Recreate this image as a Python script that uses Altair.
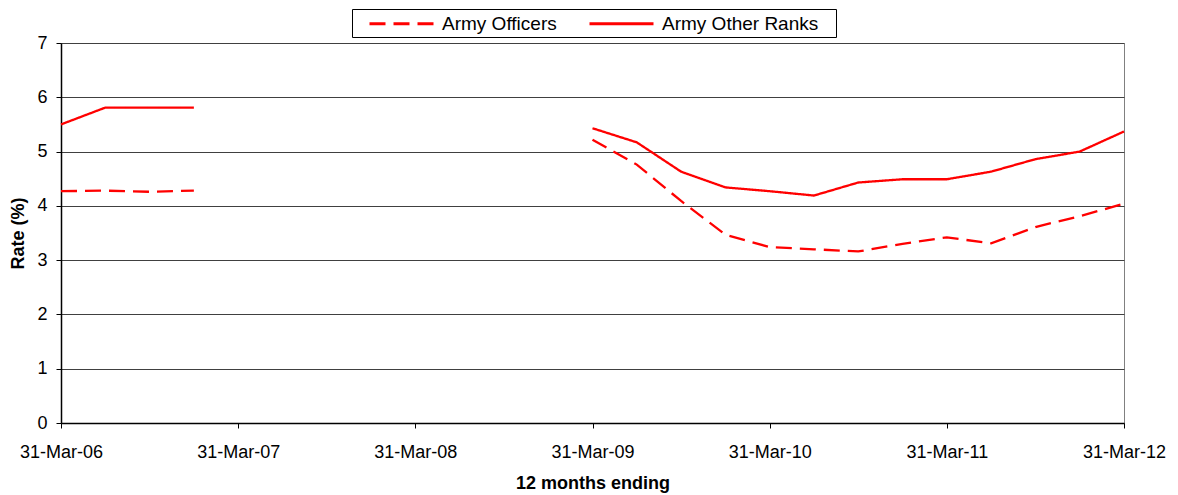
import altair as alt
import pandas as pd

# quarter index 0 = 31-Mar-06 ... 24 = 31-Mar-12
tick_labels = ["31-Mar-06", "31-Mar-07", "31-Mar-08", "31-Mar-09",
               "31-Mar-10", "31-Mar-11", "31-Mar-12"]
series_names = ["Army Officers", "Army Other Ranks"]

officers = [4.27, 4.28, 4.26, 4.28,
            None, None, None, None, None, None, None, None,
            5.22, 4.76, 4.09, 3.47, 3.24, 3.20, 3.16, 3.30, 3.42, 3.31, 3.61, 3.81, 4.04]
other_ranks = [5.50, 5.81, 5.81, 5.81,
               None, None, None, None, None, None, None, None,
               5.43, 5.17, 4.63, 4.34, 4.27, 4.19, 4.43, 4.49, 4.49, 4.63, 4.86, 5.00, 5.37]

rows = []
for name, vals in zip(series_names, [officers, other_ranks]):
    seg = 0
    prev_null = True
    for q, v in enumerate(vals):
        if v is None:
            prev_null = True
            continue
        if prev_null:
            seg += 1
            prev_null = False
        rows.append({"q": q, "rate": v, "series": name, "seg": f"{name}-{seg}"})
df = pd.DataFrame(rows)

label_expr = "[" + ",".join(f"'{t}'" for t in tick_labels) + "][datum.value/4]"
FONT = "Liberation Sans"
FS = 18
PAD = "\u2800"  # blank braille cell: widens the legend box on the right
legend_label_expr = (f"datum.label == '{series_names[1]}' ? datum.label + '{PAD}' "
                     f": datum.label")

chart = alt.Chart(df).mark_line(color="#ff0000", strokeWidth=2.3).encode(
    x=alt.X("q:Q", scale=alt.Scale(domain=[0, 24], nice=False, zero=False),
            axis=alt.Axis(values=[0, 4, 8, 12, 16, 20, 24], labelExpr=label_expr,
                          title="12 months ending", grid=False, tickSize=5,
                          labelFlush=False, labelPadding=15, titlePadding=13)),
    y=alt.Y("rate:Q", scale=alt.Scale(domain=[0, 7], nice=False),
            axis=alt.Axis(values=[0, 1, 2, 3, 4, 5, 6, 7], title="Rate (%)",
                          grid=True, tickSize=5, labelPadding=9, titlePadding=9)),
    strokeDash=alt.StrokeDash("series:N",
        scale=alt.Scale(domain=series_names, range=[[16, 8], [1, 0]]),
        legend=alt.Legend(orient="none", legendX=291, legendY=-34, direction="horizontal",
                          title=None, strokeColor="black", padding=3,
                          labelFontSize=19, labelFont=FONT, labelColor="black",
                          labelExpr=legend_label_expr, labelLimit=400,
                          symbolType="M0.3,0H6.7", symbolSize=400, symbolStrokeWidth=3,
                          symbolStrokeColor="#ff0000", columnPadding=18, labelOffset=64)),
    detail="seg:N",
).properties(
    width=1063, height=380,
    autosize=alt.AutoSizeParams(type="none"),
    padding={"left": 53, "top": 35, "right": 46, "bottom": 72},
).configure_view(
    stroke="#808080", strokeWidth=1
).configure_axis(
    labelFont=FONT, labelFontSize=FS, labelColor="black",
    titleFont=FONT, titleFontSize=FS, titleFontWeight="bold", titleColor="black",
    domainColor="black", tickColor="black", gridColor="#404040", gridWidth=1,
    domainWidth=1.5
)

chart.save("out.html", embed_options={"renderer": "svg", "actions": False})
